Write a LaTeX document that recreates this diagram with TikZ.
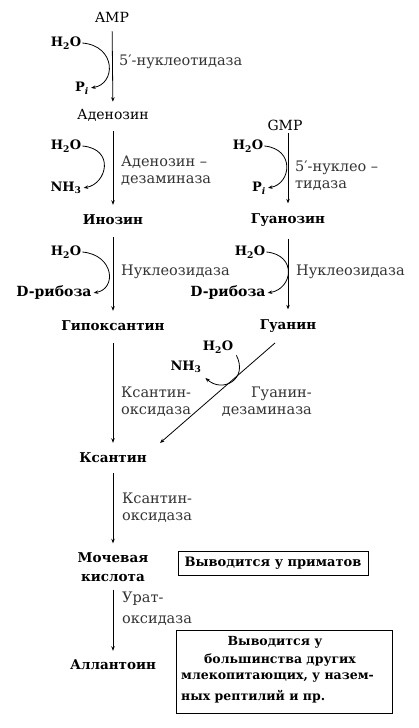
\documentclass[tikz,border=0pt]{standalone}
\usepackage{fontspec}
\setmainfont{DejaVu Serif}
\usetikzlibrary{arrows.meta,calc}
\begin{document}
\begin{tikzpicture}[x=1pt,y=-1pt,
  cmp/.style={font=\fontsize{13.5}{19}\selectfont\bfseries, inner sep=1pt, align=center},
  cmpl/.style={font=\fontsize{14}{16}\selectfont, inner sep=1pt},
  sm/.style={font=\fontsize{13}{15}\selectfont\bfseries, inner sep=1pt},
  rib/.style={font=\fontsize{14}{16}\selectfont\bfseries, inner sep=1pt},
  enz/.style={font=\fontsize{14.5}{17}\selectfont, text=black!80, inner sep=0pt, align=left, anchor=west},
  boxt/.style={font=\fontsize{12.5}{14}\selectfont\bfseries, inner sep=0pt},
  arr/.style={line width=0.8pt, -{Stealth[length=4.5pt,width=3.5pt]}},
  arc/.style={line width=0.8pt, -{Stealth[length=4.5pt,width=3.5pt]}, shorten >=1pt},
  frame/.style={draw, line width=1pt, inner sep=0pt}]
\useasboundingbox (0,0) rectangle (418,728);
\fill[white] (0,0) rectangle (418,728);

% compounds
\node[cmpl] (amp) at (112,17) {AMP};
\node[cmpl] (aden) at (113,115) {Аденозин};
\node[cmpl] (gmp) at (285,125) {GMP};
\node[cmp] (ino) at (113,220) {Инозин};
\node[cmp] (guo) at (288,220) {Гуанозин};
\node[cmp] (hyp) at (113,326) {Гипоксантин};
\node[cmp] (gua) at (288,326) {Гуанин};
\node[cmp] (xan) at (113,458) {Ксантин};
\node[cmp] (uric) at (113,567) {Мочевая\\кислота};
\node[cmp] (all) at (113,665) {Аллантоин};

% main arrows
\draw[arr, shorten <=8pt, shorten >=6pt] (amp) -- (aden);
\draw[arr, shorten <=9pt, shorten >=9pt] (aden) -- (ino);
\draw[arr, shorten <=11pt, shorten >=9pt] (ino) -- (hyp);
\draw[arr, shorten >=9pt] (guo.north |- gmp.south) ++(0,2) -- (guo.north);
\draw[arr, shorten <=11pt, shorten >=9pt] (guo) -- (gua);
\draw[arr, shorten <=11pt, shorten >=9pt] (hyp) -- (xan);
\draw[arr, shorten <=9pt, shorten >=8pt] (xan) -- (uric);
\draw[arr, shorten <=7pt, shorten >=8pt] (uric) -- (all);

% diagonal guanine -> xanthine
\coordinate (d1) at (275,343);
\coordinate (d2) at (160,443);
\draw[arr] (d1) -- (d2);

% step 1
\node[sm] (w1) at (66,43) {H\textsubscript{2}O};
\node[sm] (p1) at (82,88) {P\textsubscript{\itshape i}};
\draw[arc] (w1.east) .. controls +(34,3) and +(26,-4) .. (p1.east);
\node[enz] (e1) at (119,62) {5′-нуклеотидаза};

% step 2 left
\node[sm] (w2) at (66,146) {H\textsubscript{2}O};
\node[sm] (n2) at (66,188) {NH\textsubscript{3}};
\draw[arc] (w2.east) .. controls +(33,3) and +(24,-4) .. (n2.east);
\node[enz] (e2) at (121,171) {Аденозин –\\дезаминаза};

% step 2 right
\node[sm] (w3) at (248,146) {H\textsubscript{2}O};
\node[sm] (p3) at (259,188) {P\textsubscript{\itshape i}};
\draw[arc] (w3.east) .. controls +(31,3) and +(24,-4) .. (p3.east);
\node[enz] (e3) at (295,176) {5′-нуклео –\\тидаза};

% step 3 left
\node[sm] (w4) at (66,252) {H\textsubscript{2}O};
\node[rib] (r4) at (54,293) {D-рибоза};
\draw[arc] (w4.east) .. controls +(32,3) and +(24,-4) .. (r4.east);
\node[enz] (e4) at (121,272) {Нуклеозидаза};

% step 3 right
\node[sm] (w5) at (250,252) {H\textsubscript{2}O};
\node[rib] (r5) at (228,293) {D-рибоза};
\draw[arc] (w5.east) .. controls +(31,3) and +(26,-4) .. (r5.east);
\node[enz] (e5) at (296,272) {Нуклеозидаза};

% guanine deaminase
\node[sm] (w6) at (218,347) {H\textsubscript{2}O};
\node[sm] (n6) at (186,367) {NH\textsubscript{3}};
\draw[arc] ($(w6.south east)+(2,1)$) .. controls +(12,24) and +(18,16) .. ($(n6.south east)+(2,3)$);
\node[enz] (e6) at (121,402) {Ксантин-\\оксидаза};
\node[enz, align=right, anchor=east] (e7) at (312,402) {Гуанин-\\дезаминаза};

% xanthine oxidase, urate oxidase
\node[enz] (e8) at (122,508) {Ксантин-\\оксидаза};
\node[enz] (e9) at (122,609) {Урат-\\[4pt]оксидаза};

% boxes
\node[frame, minimum width=190pt, minimum height=24pt] (b1) at (273,563) {};
\node[boxt, font=\fontsize{13}{15}\selectfont\bfseries] (b1t) at (273,563) {Выводится у приматов};
\node[frame, minimum width=216pt, minimum height=83pt] (b2) at (284,671.5) {};
\node[boxt] (t1) at (275,642) {Выводится у};
\node[boxt] (t2) at (280,660) {большинства других};
\node[boxt, anchor=west] (t3) at (181,678) {млекопитающих, у назем-};
\node[boxt, anchor=west] (t4) at (181,697) {ных рептилий и пр.};
\end{tikzpicture}
\end{document}
